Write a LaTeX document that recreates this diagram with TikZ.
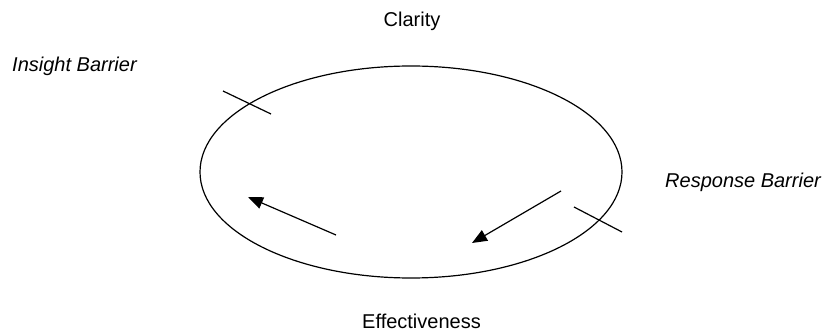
\documentclass[tikz,border=0pt]{standalone}
\usepackage{fontspec}
\setmainfont{Liberation Sans}
\usetikzlibrary{positioning,arrows.meta,shapes.geometric}

\begin{document}
\begin{tikzpicture}[x=1pt,y=-1pt,>={Triangle[length=15pt,width=12pt]},
  lbl/.style={inner sep=0pt,font=\fontsize{20}{24}\selectfont},
  barrier/.style={line width=1.2pt}]
\useasboundingbox (0,0) rectangle (828,334);
\node[draw,ellipse,line width=1.2pt,minimum width=422pt,minimum height=212pt,inner sep=0pt] (loop) at (411,172) {};
\node[lbl,anchor=base] (clarity) at (412,27) {Clarity};
\node[lbl,anchor=base] (effect) at (421.5,328) {Effectiveness};
\node[lbl,anchor=base west] (insight) at (12,72) {\itshape Insight Barrier};
\node[lbl,anchor=base west] (response) at (665,188) {\itshape Response Barrier};
% barriers
\coordinate (ib1) at (223,91); \coordinate (ib2) at (271,114);
\coordinate (rb1) at (574,207); \coordinate (rb2) at (622,232);
\draw[barrier] (ib1) -- (ib2);
\draw[barrier] (rb1) -- (rb2);
% flow arrows
\coordinate (la1) at (336,235); \coordinate (la2) at (248,197);
\coordinate (ra1) at (561,191); \coordinate (ra2) at (472,243);
\draw[->,line width=1.2pt] (la1) -- (la2);
\draw[->,line width=1.2pt] (ra1) -- (ra2);
\end{tikzpicture}
\end{document}
